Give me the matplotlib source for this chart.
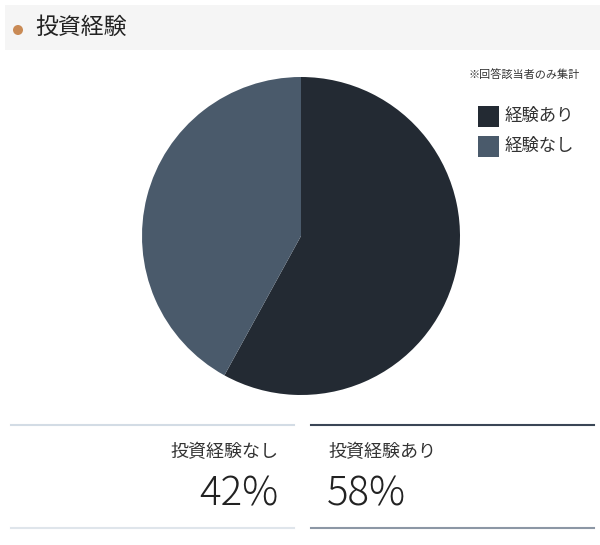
import matplotlib
matplotlib.use("Agg")
import matplotlib.pyplot as plt
from matplotlib.patches import Rectangle, Circle

plt.rcParams['font.family'] = ['Noto Sans CJK JP', 'DejaVu Sans']

title = "投資経験"
note = "※回答該当者のみ集計"
labels = ["経験あり", "経験なし"]
values = [58, 42]
colors = ["#232a33", "#4a5a6b"]
card_labels = ["投資経験なし", "投資経験あり"]
card_values = [42, 58]

W, H = 600, 545
fig = plt.figure(figsize=(W / 100, H / 100), dpi=100)
fig.patch.set_facecolor("white")

# overlay axes in pixel coords (y downwards)
bg = fig.add_axes([0, 0, 1, 1])
bg.set_xlim(0, W)
bg.set_ylim(H, 0)
bg.axis("off")

# header band
bg.add_patch(Rectangle((5, 5), 595, 45, color="#f5f5f5", lw=0))
bg.add_patch(Circle((18, 30), 5, color="#c98a55", lw=0))
bg.text(35, 27, title, fontsize=16.5, color="#222222", va="center", ha="left")

# note and legend
bg.text(580, 75, note, fontsize=8, color="#333333", va="center", ha="right")
for i, (lab, col) in enumerate(zip(labels, colors)):
    y = 116 + i * 30
    bg.add_patch(Rectangle((478, y - 10), 21, 21, color=col, lw=0))
    bg.text(505, y, lab, fontsize=12.5, color="#333333", va="center", ha="left")

# pie
cx, cy, r = 301, 236, 159
pax = fig.add_axes([(cx - r) / W, (H - cy - r) / H, 2 * r / W, 2 * r / H])
pax.pie(values, colors=colors, startangle=90, counterclock=False,
        wedgeprops=dict(linewidth=0))
pax.set_xlim(-1, 1)
pax.set_ylim(-1, 1)
pax.set_aspect("equal")
pax.axis("off")

# cards below the pie
bg.plot([11, 294], [425, 425], color="#d3dce5", lw=1.5)
bg.plot([311, 594], [425, 425], color="#3a4656", lw=1.5)
bg.plot([11, 294], [528, 528], color="#dfe5eb", lw=1.5)
bg.plot([311, 594], [528, 528], color="#8c97a5", lw=1.5)

bg.text(278, 452, card_labels[0], fontsize=13, color="#333333", ha="right", va="center")
bg.text(328, 452, card_labels[1], fontsize=13, color="#333333", ha="left", va="center")
bg.text(279, 494, f"{card_values[0]}%", fontsize=29, color="#222222",
        ha="right", va="center", fontweight="light")
bg.text(327, 494, f"{card_values[1]}%", fontsize=29, color="#222222",
        ha="left", va="center", fontweight="light")

fig.savefig("out.png", dpi=100)
